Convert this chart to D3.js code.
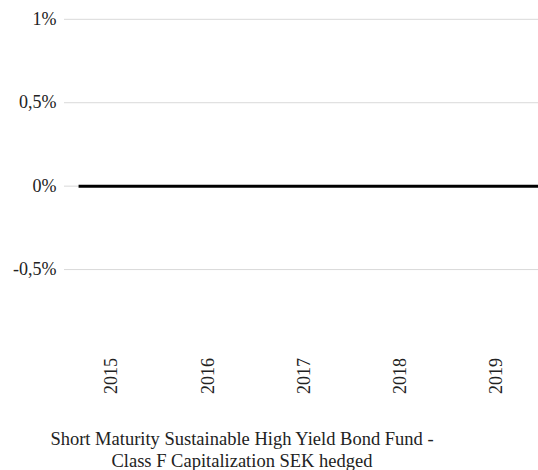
<!DOCTYPE html>
<html><head><meta charset="utf-8">
<script src="https://cdn.jsdelivr.net/npm/d3@7"></script>
<style>body{margin:0;background:#fff}</style>
</head><body>
<script>
const yearLabels = ["2015","2016","2017","2018","2019"];
const yTicks = [1, 0.5, 0, -0.5];
const yTickLabels = ["1%","0,5%","0%","-0,5%"];
const dates = ["2015-02-28","2015-06-30","2015-12-31","2016-06-30","2016-12-31","2017-06-30","2017-12-31","2018-06-30","2018-12-31","2019-06-30","2019-12-31"];
const values = [0,0,0,0,0,0,0,0,0,0,0];
const titleLines = ["Short Maturity Sustainable High Yield Bond Fund -","Class F Capitalization SEK hedged"];

const W = 538, H = 470;
const svg = d3.select("body").append("svg").attr("width", W).attr("height", H)
  .style("font-family", '"Times New Roman"');

const parse = d3.timeParse("%Y-%m-%d");
const x = d3.scaleTime().domain([new Date(2015,0,1), new Date(2020,0,1)]).range([63.3, 544.4]);
const y = d3.scaleLinear().domain([-1, 1]).range([353, 19.3]);

svg.append("g").selectAll("line").data(yTicks).join("line")
  .attr("x1", 64).attr("x2", W)
  .attr("y1", d => y(d)).attr("y2", d => y(d))
  .attr("stroke", "#d9d9d9").attr("stroke-width", 1);

svg.selectAll("text.ylab").data(yTicks).join("text").attr("class", "ylab")
  .attr("x", 56.5).attr("y", d => y(d)).attr("dy", "0.3em")
  .attr("text-anchor", "end")
  .style("font-family", '"Times New Roman"').style("font-size", "18px").attr("fill", "#222")
  .text((d, i) => yTickLabels[i]);

svg.selectAll("text.xlab").data(yearLabels).join("text").attr("class", "xlab")
  .attr("transform", d => `translate(${x(new Date(+d, 6, 1)) + 6.5},358) rotate(-90)`)
  .attr("text-anchor", "end")
  .style("font-family", '"Times New Roman"').style("font-size", "18px").attr("fill", "#222")
  .text(d => d);

const pts = dates.map((d, i) => ({ date: parse(d), v: values[i] }));
svg.append("path").datum(pts)
  .attr("fill", "none").attr("stroke", "#000").attr("stroke-width", 3)
  .attr("d", d3.line().x(d => x(d.date)).y(d => y(d.v)));

svg.selectAll("text.title").data(titleLines).join("text").attr("class", "title")
  .attr("x", 242).attr("y", (d, i) => 445 + i * 21.5)
  .attr("text-anchor", "middle")
  .style("font-family", '"Times New Roman"').style("font-size", "18.5px").attr("fill", "#222")
  .text(d => d);
</script>
</body></html>
